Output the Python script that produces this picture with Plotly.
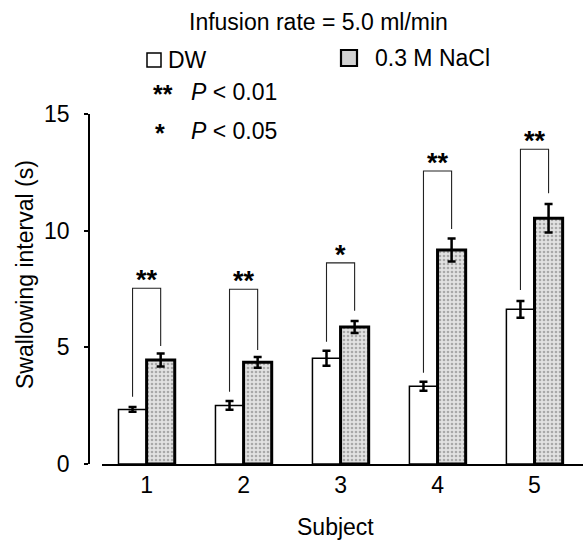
import plotly.graph_objects as go

# ---- data ----
subjects = [1, 2, 3, 4, 5]
dw_mean = [2.34, 2.51, 4.53, 3.33, 6.63]
dw_err = [0.10, 0.19, 0.32, 0.19, 0.36]
nacl_mean = [4.46, 4.36, 5.87, 9.17, 10.53]
nacl_err = [0.28, 0.23, 0.26, 0.49, 0.61]
bracket_top = [7.53, 7.49, 8.62, 12.56, 13.49]
bracket_dw_bottom = [2.88, 3.10, 5.24, 3.91, 7.46]
bracket_nacl_bottom = [5.06, 4.89, 6.57, 10.07, 11.60]
sig_labels = ["**", "**", "*", "**", "**"]
y_ticks = [0, 5, 10, 15]

# ---- layout constants ----
W, H = 583, 542
ML, MR, MT, MB = 89, 0, 114, 78
PW = W - ML - MR
PH = H - MT - MB
BW = 0.29
FONT = "Liberation Sans, Arial, sans-serif"
FS = 23


def px_x(px):
    return (px - ML) / PW


def px_y(py):
    return 1 - (py - MT) / PH


fig = go.Figure()

fig.add_trace(go.Bar(
    x=subjects, y=dw_mean, width=BW, offset=-BW, name="DW",
    marker=dict(color="white", line=dict(color="black", width=1.5)),
    error_y=dict(type="data", array=dw_err, color="black", thickness=2.5, width=4),
))
fig.add_trace(go.Bar(
    x=subjects, y=nacl_mean, width=BW, offset=0, name="0.3 M NaCl",
    marker=dict(color="#dadada",
                pattern=dict(shape=".", fgcolor="#6e6e6e", bgcolor="#e2e2e2",
                             size=4, solidity=0.35),
                line=dict(color="black", width=3)),
    error_y=dict(type="data", array=nacl_err, color="black", thickness=2.5, width=4),
))

# significance brackets
bx, by = [], []
for i, s in enumerate(subjects):
    xd = s - BW / 2
    xn = s + BW / 2
    bx += [xd, xd, xn, xn, None]
    by += [bracket_dw_bottom[i], bracket_top[i], bracket_top[i], bracket_nacl_bottom[i], None]
fig.add_trace(go.Scatter(x=bx, y=by, mode="lines", line=dict(color="#222", width=1.1),
                         hoverinfo="skip", showlegend=False))

annotations = []
for i, s in enumerate(subjects):
    annotations.append(dict(x=s, y=bracket_top[i], xref="x", yref="y",
                            text="<b>" + sig_labels[i] + "</b>",
                            showarrow=False, yanchor="bottom", xanchor="center",
                            yshift=-9, font=dict(family=FONT, size=27, color="black")))


def txt(text, x, y, xanchor="left", size=FS):
    annotations.append(dict(x=px_x(x), y=px_y(y), xref="paper", yref="paper", text=text,
                            showarrow=False, xanchor=xanchor, yanchor="middle",
                            font=dict(family=FONT, size=size, color="black")))


txt("Infusion rate = 5.0 ml/min", 318, 22, xanchor="center")
txt("DW", 166, 60)
txt("0.3 M NaCl", 373, 58)
txt("<b>**</b>", 151, 94, size=25)
txt("<i>P</i> &lt; 0.01", 189, 92)
txt("<b>*</b>", 153, 133, size=25)
txt("<i>P</i> &lt; 0.05", 189, 131)
txt("Subject", 335, 527, xanchor="center")
annotations.append(dict(x=px_x(25), y=px_y(275), xref="paper", yref="paper",
                        text="Swallowing interval (s)", textangle=-90, showarrow=False,
                        xanchor="center", yanchor="middle",
                        font=dict(family=FONT, size=FS, color="black")))

shapes = [
    dict(type="rect", xref="paper", yref="paper", x0=px_x(147), x1=px_x(161),
         y0=px_y(67), y1=px_y(53), line=dict(color="black", width=1.5), fillcolor="white"),
    dict(type="rect", xref="paper", yref="paper", x0=px_x(341), x1=px_x(357),
         y0=px_y(66), y1=px_y(50), line=dict(color="black", width=2.2), fillcolor="#d2d2d2"),
]

fig.update_layout(
    width=W, height=H,
    margin=dict(l=ML, r=MR, t=MT, b=MB),
    paper_bgcolor="white", plot_bgcolor="white",
    showlegend=False,
    barmode="overlay",
    annotations=annotations,
    shapes=shapes,
    font=dict(family=FONT, size=FS, color="black"),
    xaxis=dict(range=[0.54, 5.5], domain=[13 / PW, 1], tickvals=subjects,
               ticktext=[str(s) for s in subjects], showline=True, linecolor="black",
               linewidth=1.5, ticks="", showgrid=False, zeroline=False,
               tickfont=dict(family=FONT, size=FS, color="black")),
    yaxis=dict(range=[0, 15], tickvals=y_ticks, anchor="free", position=0,
               showline=True, linecolor="black", linewidth=1.5, ticks="outside",
               ticklen=4, tickwidth=1.5, tickcolor="black", showgrid=False, zeroline=False,
               ticklabelstandoff=10,
               tickfont=dict(family=FONT, size=FS, color="black")),
)

fig.write_html("out.html")
